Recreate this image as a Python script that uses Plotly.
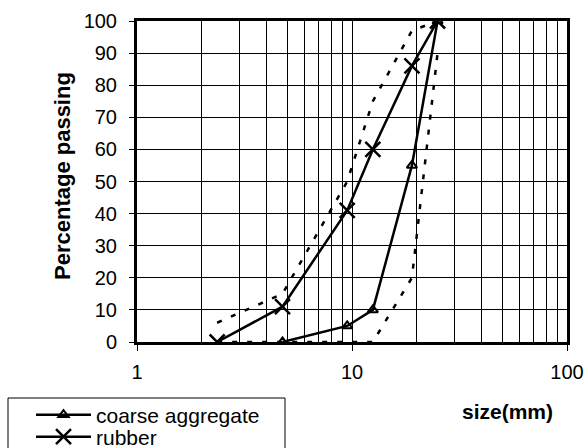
import plotly.graph_objects as go

sizes = [2.36, 4.75, 9.5, 12.5, 19, 25]
coarse_sizes = [4.75, 9.5, 12.5, 19, 25]
coarse_pass = [0, 5, 10, 55, 100]
rubber_pass = [0, 11, 41, 60, 86, 100]
upper_limit = [6, 15, 50, 75, 97, 100]
lower_sizes = [2.36, 4.75, 9.5, 12.5, 19, 25]
lower_limit = [0, 0, 0, 0, 20, 90]

x_ticks = [1, 10, 100]
x_minor = [2, 3, 4, 5, 6, 7, 8, 9, 20, 30, 40, 50, 60, 70, 80, 90]
y_ticks = list(range(0, 101, 10))

FONT = "Arial, Liberation Sans, sans-serif"
L, R, T, B = 137, 567, 21, 342
W, H = R - L, B - T


def px(x):
    return (x - L) / W


def py(y):
    return (B - y) / H


fig = go.Figure()
dot = dict(color="black", width=2.5, dash="5px,10px")
fig.add_trace(go.Scatter(x=sizes, y=upper_limit, mode="lines", line=dot,
                         showlegend=False, hoverinfo="skip"))
fig.add_trace(go.Scatter(x=lower_sizes, y=lower_limit, mode="lines", line=dot,
                         showlegend=False, hoverinfo="skip"))
fig.add_trace(go.Scatter(x=coarse_sizes, y=coarse_pass, mode="lines+markers",
                         name="coarse aggregate", legend="legend",
                         line=dict(color="black", width=2.5),
                         marker=dict(symbol="triangle-up-open", size=9,
                                     color="black", line=dict(width=2, color="black"))))
fig.add_trace(go.Scatter(x=sizes, y=rubber_pass, mode="lines+markers",
                         name="rubber", legend="legend2",
                         line=dict(color="black", width=2.5),
                         marker=dict(symbol="x-thin-open", size=15,
                                     color="black", line=dict(width=2.5, color="black"))))

leg_common = dict(xanchor="left", yanchor="middle", borderwidth=0,
                  bgcolor="rgba(0,0,0,0)", font=dict(size=21), itemwidth=55)

fig.update_layout(
    width=585, height=448,
    margin=dict(l=L, r=585 - R, t=T, b=448 - B, autoexpand=False),
    paper_bgcolor="white", plot_bgcolor="white",
    font=dict(family=FONT, size=20, color="black"),
    legend=dict(x=px(31), y=py(415), **leg_common),
    legend2=dict(x=px(31), y=py(437), **leg_common),
    shapes=[dict(type="rect", xref="paper", yref="paper",
                 x0=px(8), x1=px(285), y0=py(398), y1=py(470),
                 line=dict(color="black", width=1), fillcolor="rgba(0,0,0,0)")],
    annotations=[
        dict(text="<b>size(mm)</b>", xref="paper", yref="paper",
             x=px(507), y=py(411), showarrow=False,
             font=dict(size=21), xanchor="center", yanchor="middle"),
        dict(text="<b>Percentage passing</b>", xref="paper", yref="paper",
             x=px(62), y=py(176), showarrow=False, textangle=-90,
             font=dict(size=22), xanchor="center", yanchor="middle"),
    ],
)
fig.update_xaxes(type="log", range=[0, 2], tickvals=x_ticks, ticktext=[str(v) for v in x_ticks],
                 showgrid=True, gridcolor="black", gridwidth=1,
                 minor=dict(tickvals=x_minor, showgrid=True, gridcolor="black", gridwidth=1, ticks=""),
                 showline=True, linecolor="black", linewidth=3, mirror=True,
                 ticks="outside", ticklen=6, tickwidth=1, tickcolor="black",
                 ticklabelstandoff=4, zeroline=False)
fig.update_yaxes(range=[0, 100], tickvals=y_ticks, showgrid=True, gridcolor="black", gridwidth=1,
                 showline=True, linecolor="black", linewidth=3, mirror=True,
                 ticks="outside", ticklen=5, tickwidth=1, tickcolor="black",
                 ticklabelstandoff=8, zeroline=False)

fig.write_html("out.html")
